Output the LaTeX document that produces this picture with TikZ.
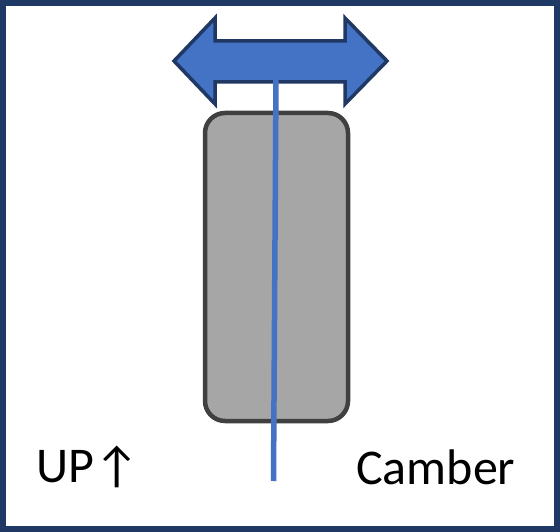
\documentclass[tikz,border=0pt]{standalone}
\usepackage{fontspec}
\setmainfont{Carlito}
\usetikzlibrary{positioning}
\definecolor{navy}{HTML}{1F3864}
\definecolor{accent}{HTML}{4472C4}
\definecolor{tyregray}{HTML}{A6A6A6}
\definecolor{tyreedge}{HTML}{404040}

\begin{document}
\begin{tikzpicture}[x=1pt,y=-1pt,
  tyre/.style={draw=tyreedge, fill=tyregray, line width=4.5pt, rounded corners=20pt,
               minimum width=143pt, minimum height=308pt, inner sep=0pt},
  label/.style={font=\fontsize{50}{60}\selectfont, inner sep=0pt}]

% frame
\draw[navy, line width=6pt, fill=white] (3,3) rectangle (557,529);

% tyre
\node[tyre] (tyre) at (276.5,267) {};

% double arrow
\draw[navy, line width=3.5pt, fill=accent, line join=miter]
  (174,61) -- (215,18) -- (215,41) -- (345,41) -- (345,18) -- (387,61)
  -- (345,104) -- (345,82) -- (215,82) -- (215,104) -- cycle;

% camber line
\coordinate (top) at (276,79);
\coordinate (bottom) at (273.5,481);
\draw[accent, line width=5.5pt] (top) -- (bottom);

\node[label, anchor=west] (up) at (36,467) {UP↑};
\node[label, anchor=west] (camber) at (356,467) {Camber};
\end{tikzpicture}
\end{document}
